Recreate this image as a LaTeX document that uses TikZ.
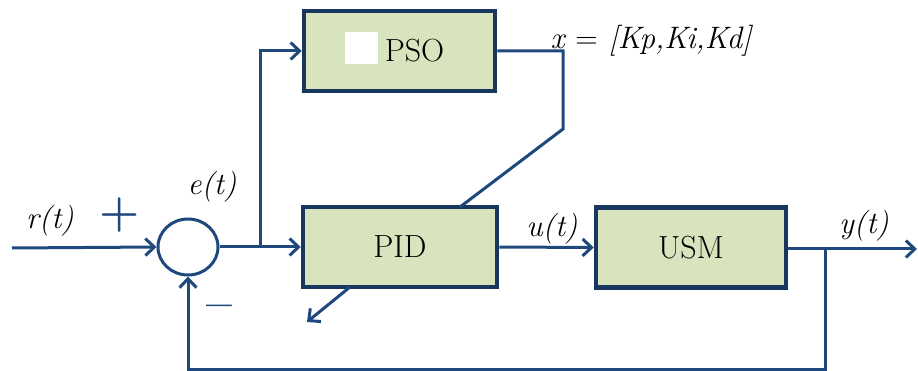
\documentclass[tikz,border=0pt]{standalone}
\usetikzlibrary{arrows.meta,shapes.geometric,calc}
\definecolor{lineblue}{RGB}{31,72,125}
\definecolor{boxblue}{RGB}{23,55,94}
\definecolor{boxfill}{RGB}{215,228,189}
\begin{document}
\begin{tikzpicture}[x=1pt,y=-1pt,
  blk/.style={draw=boxblue,line width=4.5pt,fill=boxfill,rectangle,minimum height=80pt,inner sep=0pt,font=\fontsize{32}{32}\selectfont},
  conn/.style={draw=lineblue,line width=3pt},
  arr/.style={conn,-{Straight Barb[length=9pt,width=17pt,line width=3pt]}},
  lbl/.style={font=\fontsize{31}{31}\selectfont\itshape,inner sep=0pt},
  sgn/.style={inner sep=0pt,font=\fontsize{46}{46}\selectfont\bfseries,text=lineblue}]
\useasboundingbox (0,0) rectangle (918,371);
\node[blk,minimum width=191pt] (pso) at (399.5,51) {};
\node[fill=white,minimum width=33pt,minimum height=32pt,inner sep=0pt] (sq) at (361.5,48) {};
\node[inner sep=0pt,font=\fontsize{32}{32}\selectfont] (psot) at (414.5,51) {PSO};
\node[blk,minimum width=194pt] (pid) at (400,247) {PID};
\node[blk,minimum width=190pt] (usm) at (691,247.5) {USM};
\node[draw=lineblue,line width=3pt,ellipse,minimum width=60pt,minimum height=56pt,inner sep=0pt] (sum) at (188,247) {};
\coordinate (in) at (12,248);
\coordinate (br) at (260,248);
\coordinate (k0) at (563,51);
\coordinate (k1) at (563,129);
\coordinate (k2) at (460,207);
\coordinate (pb) at (350,287);
\coordinate (pt) at (307,322);
\coordinate (yb) at (825,249);
\coordinate (out) at (917,249);
\coordinate (fb) at (825,369);
\draw[arr] (in) -- (sum.west);
\draw[arr] (sum.east) -- (pid.west);
\draw[arr] (br) |- (pso.west);
\draw[conn] (pso.east) -- (k0) -- (k1) -- (k2);
\draw[arr] (pb) -- (pt);
\draw[arr] (pid.east) -- (usm.west);
\draw[arr] (usm.east |- out) -- (out);
\draw[arr] (yb) -- (fb) -| (sum.south);
\node[lbl] (rt) at (50,221) {r(t)};
\node[lbl] (et) at (212,187) {e(t)};
\node[lbl] (ut) at (552,229) {u(t)};
\node[lbl] (yt) at (864,226) {y(t)};
\node[lbl] (xk) at (651,41) {x {\upshape=} [Kp,Ki,Kd]};
\node[sgn] (plus) at (120,215) {+};
\node[sgn] (minus) at (219,312) {–};
\end{tikzpicture}
\end{document}
